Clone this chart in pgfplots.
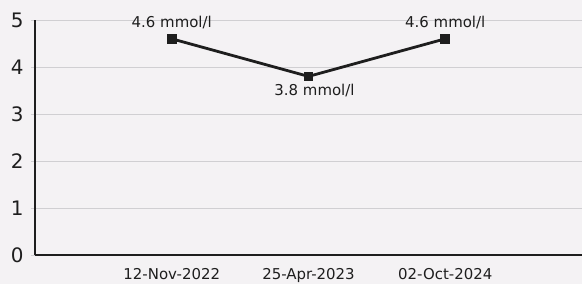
\documentclass[border=0pt]{standalone}
\usepackage{pgfplots}
\pgfplotsset{compat=1.18}
\usepackage{fontspec}
\setmainfont{DejaVu Sans}
\definecolor{bg}{RGB}{244,242,244}
\definecolor{gridc}{RGB}{208,207,210}
\definecolor{ink}{RGB}{30,30,30}
\begin{document}
\begin{tikzpicture}[x=1bp,y=1bp]
\fill[bg] (-35,-29) rectangle (547,255);
\begin{axis}[
  at={(0,0)}, anchor=south west,
  scale only axis, width=547bp, height=235bp,
  xmin=0, xmax=4, ymin=0, ymax=5,
  axis lines*=left,
  axis line style={-, ink, line width=1.4bp},
  ytick={0,1,2,3,4,5},
  xtick={1,2,3},
  xticklabels={12-Nov-2022,25-Apr-2023,02-Oct-2024},
  ymajorgrids,
  grid style={gridc, line width=0.9bp},
  xtick style={draw=none},
  ytick style={draw=gridc, line width=0.9bp},
  tick align=outside, major tick length=4bp,
  yticklabel style={font=\fontsize{20}{20}\selectfont, text=ink, xshift=-4bp},
  xticklabel style={font=\fontsize{15}{15}\selectfont, text=ink, yshift=-6bp},
  /pgf/number format/assume math mode=true,
  clip=false,
]
\addplot[ink, line width=2.8bp, mark=square*, mark size=3.5bp, mark options={solid, fill=ink}]
  coordinates {(1,4.6) (2,3.8) (3,4.6)};
\node[font=\fontsize{15}{15}\selectfont, text=ink] at (axis cs:1,4.6) [yshift=16bp] {4.6 mmol/l};
\node[font=\fontsize{15}{15}\selectfont, text=ink] at (axis cs:2,3.8) [yshift=-14bp, xshift=6bp] {3.8 mmol/l};
\node[font=\fontsize{15}{15}\selectfont, text=ink] at (axis cs:3,4.6) [yshift=16bp] {4.6 mmol/l};
\end{axis}
\pgfresetboundingbox
\path (-35,-29) rectangle (547,255);
\end{tikzpicture}
\end{document}
